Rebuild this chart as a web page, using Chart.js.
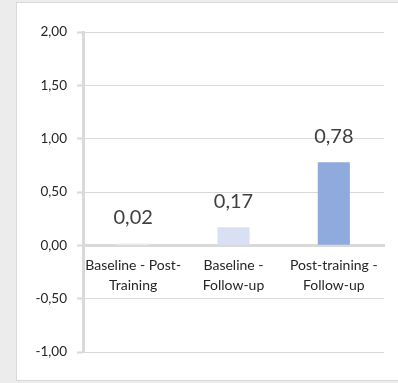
<!DOCTYPE html>
<html>
<head>
<meta charset="utf-8">
<script src="https://cdn.jsdelivr.net/npm/chart.js@4"></script>
<style>
  html, body { margin: 0; padding: 0; background: #ececec; }
  #panel {
    position: absolute; left: 16px; top: 2px;
    width: 382px; height: 377px;
    background: #fff;
    border: 1px solid #d9d9d9; border-right: none;
  }
  #wrap { position: absolute; left: 0; top: 0; width: 382px; height: 377px; }
</style>
</head>
<body>
<div id="panel"><div id="wrap"><canvas id="myBarChart"></canvas></div></div>
<script>
// comparisons and mean differences
var categories = [['Baseline - Post-', 'Training'], ['Baseline -', 'Follow-up'], ['Post-training -', 'Follow-up']];
var values = [0.02, 0.17, 0.78];
var barColors = ['#eef0f9', '#dae0f3', '#8faadc'];
var yTicks = [-1, -0.5, 0, 0.5, 1, 1.5, 2];

function fmt(v) {
  return v.toFixed(2).replace('.', ',');
}

Chart.defaults.font.family = 'Lato, "Open Sans", sans-serif';

// numbers over the bars
var valueLabels = {
  id: 'valueLabels',
  afterDatasetsDraw: function(chart) {
    var ctx = chart.ctx;
    var meta = chart.getDatasetMeta(0);
    ctx.save();
    ctx.font = '20px Lato, sans-serif';
    ctx.fillStyle = '#404040';
    ctx.textAlign = 'center';
    ctx.textBaseline = 'alphabetic';
    meta.data.forEach(function(bar, i) {
      ctx.fillText(fmt(values[i]), bar.x, bar.y - 19);
    });
    ctx.restore();
  }
};

var ctx = document.getElementById('myBarChart').getContext('2d');
var myBarChart = new Chart(ctx, {
  type: 'bar',
  data: {
    labels: categories,
    datasets: [{
      data: values,
      backgroundColor: barColors,
      borderWidth: 0,
      barPercentage: 0.32,
      categoryPercentage: 1
    }]
  },
  options: {
    responsive: true,
    maintainAspectRatio: false,
    animation: false,
    layout: { padding: { top: 29, right: 15, bottom: 28, left: 0 } },
    plugins: { legend: { display: false }, tooltip: { enabled: false } },
    scales: {
      x: {
        position: { y: 0 },
        grid: { display: false, drawTicks: false },
        border: { color: '#d9d9d9', width: 3 },
        ticks: {
          color: '#262626',
          padding: 10,
          maxRotation: 0,
          autoSkip: false,
          font: { size: 14, lineHeight: 1.43 }
        }
      },
      y: {
        min: -1,
        max: 2,
        afterFit: function(scale) { scale.width = 66; },
        afterBuildTicks: function(scale) {
          scale.ticks = yTicks.map(function(v) { return { value: v }; });
        },
        grid: {
          color: '#d9d9d9',
          lineWidth: 1,
          tickColor: '#d9d9d9',
          tickLength: 6,
          tickWidth: 2
        },
        border: { color: '#d9d9d9', width: 3 },
        ticks: {
          color: '#262626',
          padding: 10,
          font: { size: 13.5 },
          callback: function(v) { return fmt(v); }
        }
      }
    }
  },
  plugins: [valueLabels]
});
</script>
</body>
</html>
